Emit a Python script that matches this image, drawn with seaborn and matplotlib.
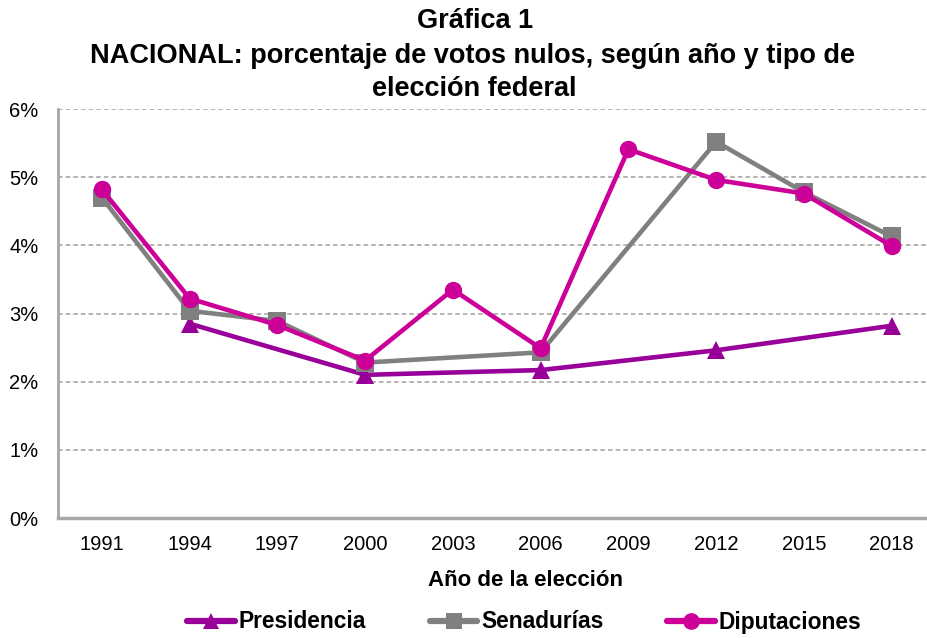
import matplotlib
matplotlib.use("Agg")
import matplotlib.pyplot as plt
import seaborn as sns
import pandas as pd
import numpy as np
from matplotlib.ticker import FuncFormatter
from matplotlib.lines import Line2D

years = [1991, 1994, 1997, 2000, 2003, 2006, 2009, 2012, 2015, 2018]
presidencia = [np.nan, 2.85, np.nan, 2.10, np.nan, 2.17, np.nan, 2.46, np.nan, 2.82]
senadurias = [4.70, 3.04, 2.89, 2.28, np.nan, 2.43, np.nan, 5.52, 4.78, 4.13]
diputaciones = [4.82, 3.22, 2.83, 2.31, 3.35, 2.49, 5.41, 4.96, 4.76, 3.99]
series_names = ["Presidencia", "Senadurías", "Diputaciones"]
colors = ["#990099", "#808080", "#CC0099"]
markers = ["^", "s", "o"]

rows = []
for name, vals in zip(series_names, [presidencia, senadurias, diputaciones]):
    for y, v in zip(years, vals):
        if not np.isnan(v):
            rows.append({"Año": y, "Porcentaje": v, "Tipo": name})
df = pd.DataFrame(rows)

sns.set_theme(style="white")
FONT = ['Liberation Sans', 'DejaVu Sans']
plt.rcParams['font.family'] = FONT
plt.rcParams['text.color'] = 'black'
plt.rcParams['xtick.color'] = 'black'
plt.rcParams['ytick.color'] = 'black'
plt.rcParams['axes.labelcolor'] = 'black'

W, H = 927, 638
fig = plt.figure(figsize=(W/100, H/100), dpi=100)
ax = fig.add_axes([58/W, 1-518/H, 877.5/W, (518-109)/H])

sns.lineplot(data=df, x="Año", y="Porcentaje", hue="Tipo", style="Tipo",
             hue_order=series_names, style_order=series_names,
             palette=dict(zip(series_names, colors)),
             markers=dict(zip(series_names, markers)),
             dashes=False, linewidth=3.3, markersize=12.5, markeredgewidth=0,
             ax=ax, legend=False)

ax.set_xlim(1989.5, 2019.5)
ax.set_ylim(0, 6)
ax.set_xticks(years)
ax.set_xticklabels([str(y) for y in years], fontsize=14.5)
ax.set_yticks(range(0, 7))
ax.yaxis.set_major_formatter(FuncFormatter(lambda v, p: f"{int(v)}%"))
ax.tick_params(axis='y', labelsize=14.5, length=0, pad=14)
ax.tick_params(axis='x', length=0, pad=12)
ax.grid(axis='y', color='#a0a0a0', linestyle=(0, (3, 2)), linewidth=1.1)
ax.grid(axis='x', visible=False)
for s in ['top', 'right']:
    ax.spines[s].set_visible(False)
ax.spines['left'].set_color('#a6a6a6')
ax.spines['left'].set_linewidth(2)
ax.spines['bottom'].set_color('#a6a6a6')
ax.spines['bottom'].set_linewidth(2.5)
ax.set_ylabel("")
ax.set_xlabel("Año de la elección", fontsize=16, fontweight='bold', labelpad=15)
ax.xaxis.set_label_coords((525 - 58) / 877.5, -(580 - 518) / (518 - 109))
ax.xaxis.label.set_va('center')

fig.text(475/W, 1-28/H, "Gráfica 1", ha='center', va='baseline', fontsize=19.5,
         fontweight='bold')
fig.text(472/W, 1-63/H, "NACIONAL: porcentaje de votos nulos, según año y tipo de",
         ha='center', va='baseline', fontsize=19.5, fontweight='bold')
fig.text(474/W, 1-96/H, "elección federal",
         ha='center', va='baseline', fontsize=19.5, fontweight='bold')

handles = [Line2D([], [], color=c, marker=m, linewidth=4.5, markersize=12, markeredgewidth=0)
           for c, m in zip(colors, markers)]
fig.legend(handles, series_names, loc='center', bbox_to_anchor=(524/W, 1-622/H), ncol=3,
           frameon=False, prop={'weight': 'bold', 'size': 16.4}, handlelength=2.1,
           handletextpad=0.15, columnspacing=2.8)

fig.savefig("out.png", dpi=100)
